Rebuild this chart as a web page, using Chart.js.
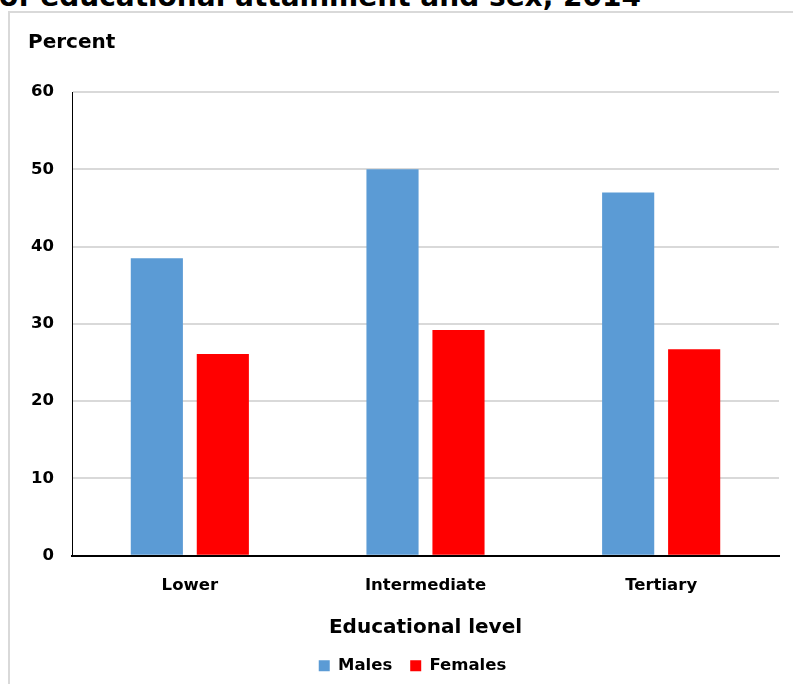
<!DOCTYPE html>
<html>
<head>
<meta charset="utf-8">
<script src="https://cdn.jsdelivr.net/npm/chart.js@4.4.0/dist/chart.umd.min.js"></script>
<style>
    body { margin: 0; background: #fff; overflow: hidden; }
    #titulo {
        position: absolute; left: -1px; top: -20px;
        font: bold 28px "DejaVu Sans", sans-serif; white-space: nowrap; color: #000;
    }
    #moldura {
        position: absolute; left: 8px; top: 11px; width: 900px; height: 800px;
        border: 2px solid #d9d9d9;
    }
    #caixa { position: absolute; left: 0; top: 0; width: 793px; height: 684px; }
</style>
</head>
<body>
<div id="titulo">of educational attainment and sex, 2014</div>
<div id="moldura"></div>
<div id="caixa"><canvas id="grafico"></canvas></div>
<script>
// Dados
const categorias = ['Lower', 'Intermediate', 'Tertiary'];
const homens = [38.5, 50.0, 47.0];
const mulheres = [26.1, 29.2, 26.7];
const ticksY = [0, 10, 20, 30, 40, 50, 60];

const fonte = 'DejaVu Sans';

const ctx = document.getElementById('grafico').getContext('2d');

// desloca a legenda um pouco para a direita, como no original
const ajusteLegenda = {
    id: 'ajusteLegenda',
    afterLayout(chart) {
        const dx = 9;
        chart.legend.left += dx;
        chart.legend.right += dx;
    }
};

const dados = {
    labels: categorias,
    datasets: [{
        label: 'Males',
        data: homens,
        backgroundColor: '#5b9bd5',
        borderWidth: 0
    }, {
        label: 'Females',
        data: mulheres,
        backgroundColor: '#ff0000',
        borderWidth: 0
    }]
};

const config = {
    type: 'bar',
    data: dados,
    options: {
        responsive: true,
        maintainAspectRatio: false,
        animation: false,
        layout: {
            padding: { left: 28, right: 14, top: 0, bottom: 0 }
        },
        datasets: {
            bar: {
                categoryPercentage: 0.56,
                barPercentage: 0.79
            }
        },
        scales: {
            y: {
                min: 0,
                max: 60,
                afterBuildTicks: (eixo) => {
                    eixo.ticks = ticksY.map(v => ({ value: v }));
                },
                afterFit: (eixo) => {
                    eixo.width = 44; // largura fixa para os rótulos
                },
                ticks: {
                    color: 'black',
                    padding: 18,
                    font: { family: fonte, size: 16.5, weight: 'bold' }
                },
                grid: {
                    color: '#d9d9d9',
                    lineWidth: 2,
                    drawTicks: false
                },
                border: { display: true, color: 'black', width: 1 }
            },
            x: {
                ticks: {
                    color: 'black',
                    padding: 20,
                    font: { family: fonte, size: 16.5, weight: 'bold' }
                },
                grid: { display: false, drawTicks: false },
                border: { display: true, color: 'black', width: 2 },
                title: {
                    display: true,
                    text: 'Educational level',
                    color: 'black',
                    padding: { top: 0, bottom: 0 },
                    font: { family: fonte, size: 20, weight: 'bold' }
                }
            }
        },
        plugins: {
            title: {
                display: true,
                text: 'Percent',
                align: 'start',
                color: 'black',
                padding: { top: 31, bottom: 37 },
                font: { family: fonte, size: 20, weight: 'bold' }
            },
            legend: {
                position: 'bottom',
                labels: {
                    color: 'black',
                    boxWidth: 11,
                    boxHeight: 11,
                    padding: 18,
                    font: { family: fonte, size: 16.5, weight: 'bold' }
                }
            },
            tooltip: { enabled: false }
        }
    },
    plugins: [ajusteLegenda]
};

const chart = new Chart(ctx, config);
</script>
</body>
</html>
